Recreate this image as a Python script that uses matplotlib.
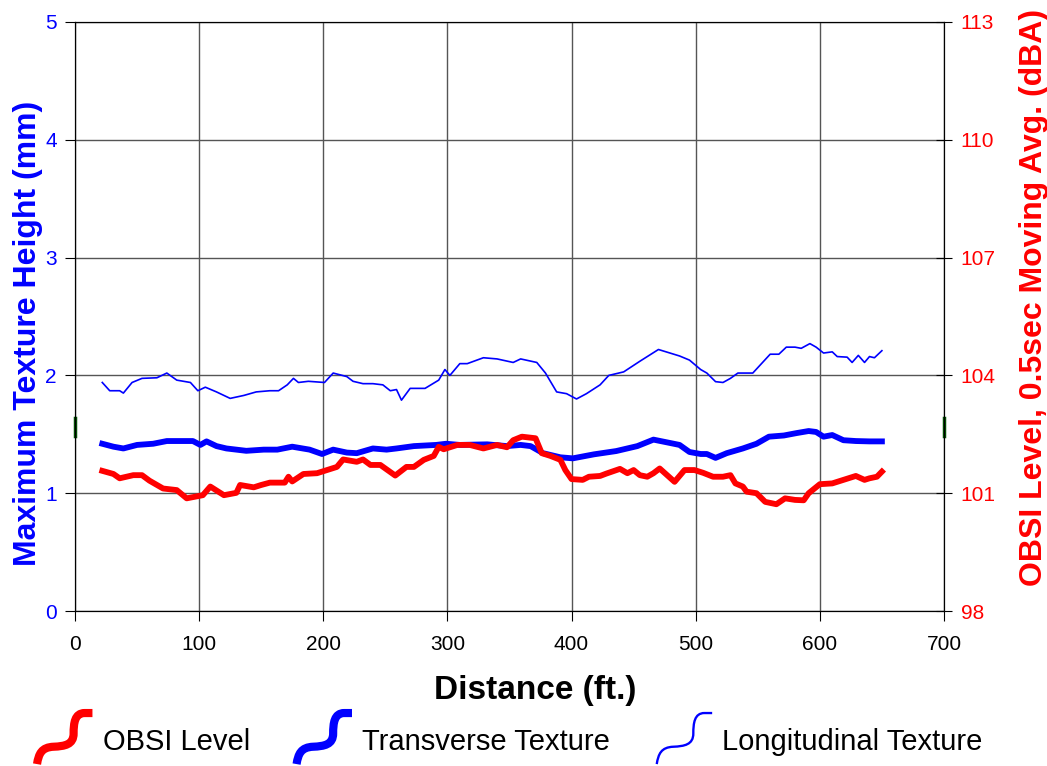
import numpy as np
import matplotlib
matplotlib.use('Agg')
from matplotlib import pyplot as plt
from matplotlib.lines import Line2D
from matplotlib.patches import PathPatch
from matplotlib.path import Path
from matplotlib.legend_handler import HandlerBase
from matplotlib.transforms import Affine2D

plt.rcParams['font.family'] = ['Liberation Sans', 'DejaVu Sans']

# Longitudinal texture (mm)
long_ft = [22, 28, 36, 39, 46, 54, 66, 74, 82, 93, 99, 105, 114, 125, 136, 146, 157, 164,
           171, 176, 180, 188, 201, 208, 219, 224, 232, 240, 248, 254, 259, 263, 270, 282,
           293, 298, 302, 310, 316, 329, 340, 353, 359, 372, 379, 388, 396, 404, 412, 423,
           430, 442, 455, 470, 487, 495, 504, 509, 516, 522, 528, 534, 546, 553, 560, 567,
           573, 580, 585, 592, 597, 603, 610, 614, 622, 626, 631, 636, 640, 644, 650]
long_mm = [1.94, 1.87, 1.87, 1.85, 1.94, 1.975, 1.98, 2.02, 1.96, 1.94, 1.87, 1.90, 1.86,
           1.805, 1.83, 1.86, 1.87, 1.87, 1.92, 1.975, 1.94, 1.95, 1.94, 2.02, 1.99, 1.95,
           1.93, 1.93, 1.92, 1.87, 1.88, 1.79, 1.89, 1.89, 1.96, 2.05, 2.00, 2.10, 2.10,
           2.15, 2.14, 2.11, 2.14, 2.11, 2.02, 1.86, 1.845, 1.80, 1.845, 1.92, 2.00, 2.03,
           2.12, 2.22, 2.165, 2.13, 2.05, 2.02, 1.947, 1.94, 1.975, 2.02, 2.02, 2.10, 2.18,
           2.18, 2.24, 2.24, 2.23, 2.27, 2.24, 2.19, 2.20, 2.16, 2.155, 2.11, 2.17, 2.11,
           2.16, 2.15, 2.21]

# Transverse texture (mm)
trans_ft = [22, 31, 39, 50, 63, 74, 95, 101, 106, 114, 122, 138, 152, 163, 175, 189, 199,
            208, 219, 227, 240, 251, 259, 273, 291, 299, 310, 332, 348, 359, 367, 377, 391,
            401, 418, 436, 453, 466, 487, 495, 504, 509, 516, 525, 538, 549, 559, 571, 581,
            591, 597, 603, 610, 619, 629, 640, 650]
trans_mm = [1.42, 1.395, 1.38, 1.41, 1.42, 1.443, 1.443, 1.41, 1.44, 1.40, 1.38, 1.36, 1.37,
            1.37, 1.395, 1.37, 1.333, 1.37, 1.345, 1.34, 1.38, 1.37, 1.38, 1.40, 1.41, 1.42,
            1.41, 1.415, 1.40, 1.41, 1.40, 1.34, 1.305, 1.296, 1.33, 1.358, 1.40, 1.455,
            1.41, 1.35, 1.333, 1.333, 1.30, 1.34, 1.38, 1.42, 1.48, 1.49, 1.51, 1.528, 1.52,
            1.48, 1.494, 1.45, 1.443, 1.44, 1.44]

# OBSI level, 0.5 sec moving average (dBA)
obsi_ft = [22, 31, 36, 47, 54, 60, 71, 82, 90, 103, 109, 120, 130, 133, 144, 150, 157, 169,
           172, 175, 184, 195, 211, 216, 227, 232, 238, 246, 258, 267, 273, 281, 289, 293,
           297, 308, 318, 329, 340, 348, 353, 360, 371, 376, 383, 391, 395, 400, 409, 414,
           423, 428, 439, 445, 450, 455, 461, 466, 471, 477, 483, 491, 499, 506, 514, 522,
           528, 532, 538, 541, 549, 556, 565, 572, 580, 587, 591, 600, 610, 619, 629, 636,
           640, 646, 650]
obsi_db = [101.57, 101.49, 101.38, 101.46, 101.46, 101.32, 101.12, 101.08, 100.87, 100.95,
           101.17, 100.95, 101.01, 101.21, 101.15, 101.21, 101.27, 101.27, 101.42, 101.30,
           101.49, 101.51, 101.67, 101.86, 101.80, 101.86, 101.72, 101.72, 101.45, 101.67,
           101.67, 101.85, 101.95, 102.18, 102.12, 102.23, 102.23, 102.14, 102.23, 102.17,
           102.35, 102.44, 102.40, 102.02, 101.95, 101.85, 101.59, 101.36, 101.34, 101.42,
           101.44, 101.50, 101.62, 101.51, 101.59, 101.46, 101.42, 101.51, 101.63, 101.46,
           101.29, 101.59, 101.59, 101.52, 101.42, 101.42, 101.46, 101.25, 101.17, 101.04,
           101.00, 100.78, 100.72, 100.87, 100.83, 100.82, 101.00, 101.23, 101.25, 101.34,
           101.44, 101.34, 101.38, 101.42, 101.55]

# small dark green marks sitting on both vertical spines
spine_mark_mm = [1.49, 1.64]

# unit S-stroke used for the legend keys
S_VERTS = [(0.0, 0.0), (0.03, 0.2), (0.08, 0.33), (0.3, 0.34),
           (0.5, 0.35), (0.66, 0.38), (0.66, 0.6),
           (0.66, 0.8), (0.68, 1.0), (0.86, 1.0),
           (1.0, 1.0)]
S_CODES = [Path.MOVETO, Path.CURVE4, Path.CURVE4, Path.CURVE4,
           Path.CURVE4, Path.CURVE4, Path.CURVE4,
           Path.CURVE4, Path.CURVE4, Path.CURVE4,
           Path.LINETO]


class SHandler(HandlerBase):
    def create_artists(self, legend, orig_handle, xdescent, ydescent, width, height,
                       fontsize, trans):
        h = 1.75 * fontsize
        cy = -ydescent + 0.5 * height + 0.05 * fontsize
        tr = Affine2D().scale(width, h).translate(-xdescent, cy - 0.5 * h)
        patch = PathPatch(Path(S_VERTS, S_CODES), facecolor='none',
                          edgecolor=orig_handle.get_color(),
                          linewidth=orig_handle.get_linewidth() * 1.4,
                          capstyle='butt', joinstyle='round')
        patch.set_transform(tr + trans)
        return [patch]


fig = plt.figure(figsize=(10.47, 7.66), dpi=100)
ax = fig.add_axes([0.0716, 0.2023, 0.8300, 0.7690])
ax2 = ax.twinx()

l_long, = ax.plot(long_ft, long_mm, color='#0000ff', lw=1.2, label='Longitudinal Texture')
l_trans, = ax.plot(trans_ft, trans_mm, color='#0000ff', lw=4.2, label='Transverse Texture')
l_obsi, = ax2.plot(obsi_ft, obsi_db, color='#ff0000', lw=4.2, label='OBSI Level')

ax.set_xlim(0, 700)
ax.set_ylim(0, 5)
ax.set_xticks(np.arange(0, 701, 100))
ax.set_yticks(np.arange(0, 6, 1))
ax2.set_ylim(98, 113)
ax2.set_yticks(np.arange(98, 114, 3))

for xm in (0, 700):
    ax.plot([xm, xm], spine_mark_mm, color='#005000', lw=2.5, clip_on=False, zorder=5)

ax.grid(True, color='#555555', lw=1.0)
ax.set_axisbelow(True)

ax.tick_params(axis='x', direction='out', length=7, labelsize=15, pad=10, colors='black')
ax.tick_params(axis='y', direction='out', length=7, labelsize=15, labelcolor='#0000ff',
               color='black', pad=6)
ax2.tick_params(axis='y', direction='inout', length=12, labelsize=15, labelcolor='#ff0000',
                color='black', pad=6)

ax.set_xlabel('Distance (ft.)', fontsize=24, fontweight='bold')
ax.set_ylabel('Maximum Texture Height (mm)', fontsize=23, fontweight='bold', color='#0000ff')
ax2.set_ylabel('OBSI Level, 0.5sec Moving Avg. (dBA)', fontsize=23, fontweight='bold',
               color='#ff0000')
ax.xaxis.set_label_coords(0.53, -0.108)
ax.yaxis.set_label_coords(-0.037, 0.472)
ax2.yaxis.set_label_coords(1.086, 0.533)

for sp in ax.spines.values():
    sp.set_color('black')

fig.legend([l_obsi, l_trans, l_long], ['OBSI Level', 'Transverse Texture', 'Longitudinal Texture'],
           handler_map={Line2D: SHandler()}, loc='center', bbox_to_anchor=(0.487, 0.032),
           ncol=3, frameon=False, fontsize=21, handlelength=1.9, handleheight=1.0,
           handletextpad=0.35, columnspacing=1.6, borderpad=0.2)

fig.savefig('out.png', dpi=100)
